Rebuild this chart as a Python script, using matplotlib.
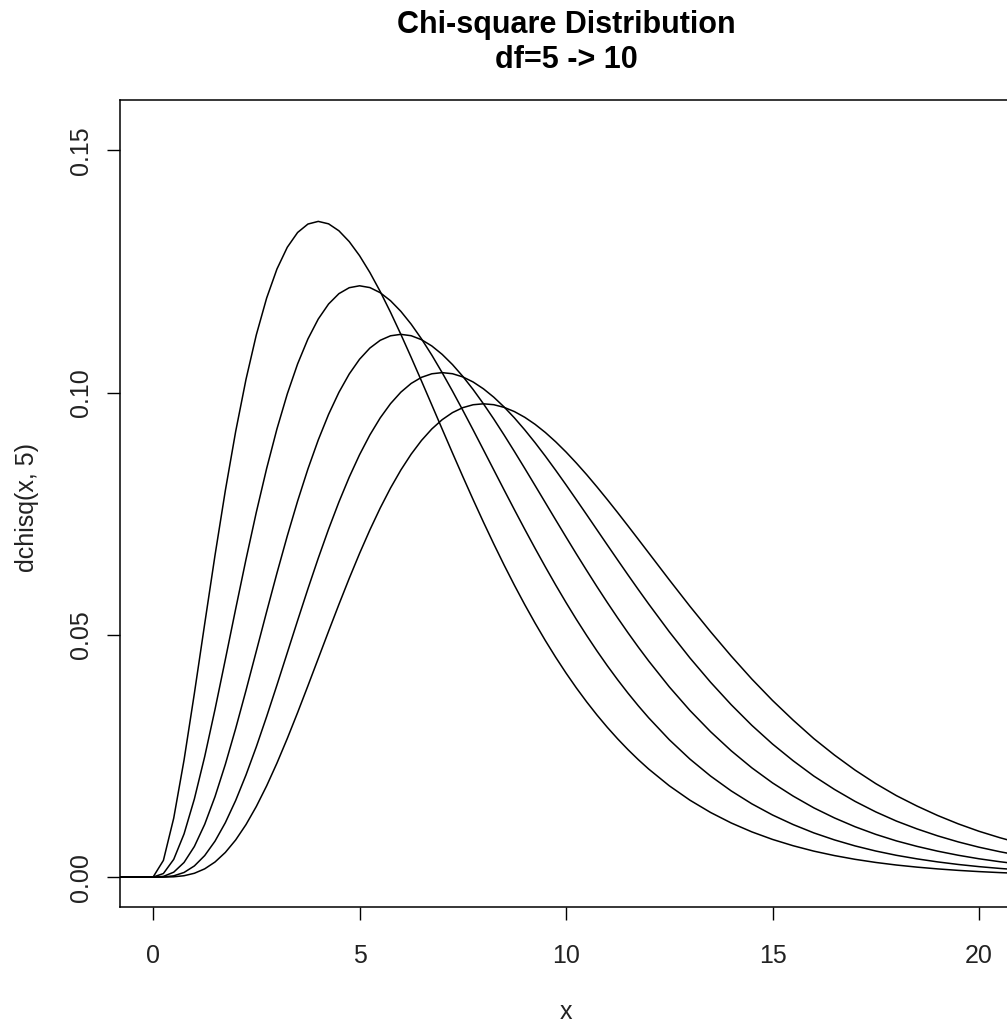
import matplotlib
matplotlib.use("Agg")
import matplotlib.pyplot as plt

x = [-1,
     0, 0.25, 0.5, 0.75, 1, 1.25, 1.5, 1.75, 2, 2.25, 2.5, 2.75,
     3, 3.25, 3.5, 3.75, 4, 4.25, 4.5, 4.75, 5, 5.25, 5.5, 5.75,
     6, 6.25, 6.5, 6.75, 7, 7.25, 7.5, 7.75, 8, 8.25, 8.5, 8.75,
     9, 9.25, 9.5, 9.75, 10, 10.25, 10.5, 10.75, 11, 11.25, 11.5, 11.75,
     12, 12.5, 13, 13.5, 14, 14.5, 15, 15.5, 16, 16.5, 17, 17.5,
     18, 18.5, 19, 19.5, 20, 20.5, 21]

df6 = [0,
       0, 0.003447, 0.012169, 0.024163, 0.037908, 0.052272, 0.066427, 0.079790,
       0.091970, 0.102722, 0.111916, 0.119506,
       0.125511, 0.129993, 0.133046, 0.134785, 0.135335, 0.134829, 0.133396, 0.131164,
       0.128258, 0.124789, 0.120864, 0.116578,
       0.112021, 0.107268, 0.102388, 0.097441, 0.092478, 0.087546, 0.082680, 0.077912,
       0.073264, 0.068760, 0.064411, 0.060236,
       0.056239, 0.052428, 0.048803, 0.045363, 0.042113, 0.039044, 0.036162, 0.033448,
       0.030908, 0.028532, 0.026310, 0.024239,
       0.022311, 0.018848, 0.015875, 0.013338, 0.011172, 0.009330, 0.007777, 0.006472,
       0.005360, 0.004441, 0.003667, 0.003024,
       0.002491, 0.002056, 0.001690, 0.001386, 0.001135, 0.000930, 0.000758]
df7 = [0,
       0, 0.000733, 0.003662, 0.008905, 0.016131, 0.024870, 0.034620, 0.044917,
       0.055349, 0.065569, 0.075301, 0.084333,
       0.092509, 0.099725, 0.105920, 0.111071, 0.115182, 0.118283, 0.120419, 0.121648,
       0.122043, 0.121674, 0.120621, 0.118958,
       0.116767, 0.114118, 0.111083, 0.107730, 0.104119, 0.100311, 0.096355, 0.092299,
       0.088182, 0.084044, 0.079912, 0.075823,
       0.071796, 0.067854, 0.064011, 0.060276, 0.056671, 0.053194, 0.049864, 0.046668,
       0.043622, 0.040724, 0.037967, 0.035357,
       0.032889, 0.028357, 0.024357, 0.020855, 0.017788, 0.015118, 0.012818, 0.010843,
       0.009124, 0.007677, 0.006434, 0.005383,
       0.004497, 0.003763, 0.003135, 0.002605, 0.002160, 0.001792, 0.001478]
df8 = [0,
       0, 0.000144, 0.001014, 0.003020, 0.006318, 0.010890, 0.016607, 0.023272,
       0.030657, 0.038521, 0.046632, 0.054774,
       0.062756, 0.070413, 0.077610, 0.084241, 0.090223, 0.095504, 0.100047, 0.103838,
       0.106882, 0.109190, 0.110792, 0.111721,
       0.112021, 0.111738, 0.110920, 0.109621, 0.107891, 0.105785, 0.103350, 0.100636,
       0.097685, 0.094545, 0.091249, 0.087844,
       0.084359, 0.080826, 0.077271, 0.073715, 0.070188, 0.066700, 0.063284, 0.059928,
       0.056665, 0.053498, 0.050428, 0.047468,
       0.044622, 0.039267, 0.034396, 0.030011, 0.026068, 0.022548, 0.019443, 0.016719,
       0.014293, 0.012213, 0.010390, 0.008820,
       0.007473, 0.006339, 0.005352, 0.004505, 0.003783, 0.003178, 0.002653]
df9 = [0,
       0, 0.0000262, 0.000262, 0.000954, 0.002304, 0.004441, 0.007419, 0.011229,
       0.015814, 0.021076, 0.026893, 0.033131,
       0.039647, 0.046301, 0.052960, 0.059502, 0.065818, 0.071815, 0.077412, 0.082547,
       0.087174, 0.091256, 0.094774, 0.097716,
       0.100086, 0.101891, 0.103149, 0.103882, 0.104119, 0.103894, 0.103238, 0.102188,
       0.100779, 0.099052, 0.097036, 0.094779,
       0.092309, 0.089664, 0.086872, 0.083956, 0.080959, 0.077891, 0.074796, 0.071669,
       0.068549, 0.065449, 0.062375, 0.059349,
       0.056381, 0.050638, 0.045234, 0.040220, 0.035576, 0.031316, 0.027467, 0.024010,
       0.020855, 0.018096, 0.015625, 0.013458,
       0.011564, 0.009945, 0.008509, 0.007257, 0.006171, 0.005248, 0.004434]
df10 = [0,
        0, 0.0000045, 0.0000634, 0.000283, 0.000790, 0.001702, 0.003114, 0.005091,
        0.007664, 0.010834, 0.014573, 0.018829,
        0.023534, 0.028605, 0.033954, 0.039488, 0.045112, 0.050737, 0.056276, 0.061654,
        0.066801, 0.071656, 0.076170, 0.080300,
        0.084016, 0.087295, 0.090123, 0.092493, 0.094405, 0.095868, 0.096891, 0.097491,
        0.097685, 0.097500, 0.096952, 0.096079,
        0.094904, 0.093455, 0.091759, 0.089840, 0.087735, 0.085459, 0.083060, 0.080528,
        0.077914, 0.075232, 0.072490, 0.069719,
        0.066933, 0.061355, 0.055894, 0.050644, 0.045619, 0.040868, 0.036456, 0.032393,
        0.028586, 0.025189, 0.022079, 0.019294,
        0.016814, 0.014659, 0.012711, 0.010981, 0.009458, 0.008144, 0.006964]

curves = [df6, df7, df8, df9, df10]
xticks = [0, 5, 10, 15, 20]
yticks = [0.00, 0.05, 0.10, 0.15]
ytick_labels = ["0.00", "0.05", "0.10", "0.15"]

plt.rcParams['font.family'] = ['Liberation Sans', 'DejaVu Sans']

fig = plt.figure(figsize=(10.07, 10.23), dpi=100)
ax = fig.add_axes([0.1192, 0.1134, 0.8858, 0.7889])

for c in curves:
    ax.plot(x, c, color='black', linewidth=1.1)

ax.set_xlim(-0.8, 20.8)
ax.set_ylim(-0.00617, 0.1604)

ax.set_xticks(xticks)
ax.set_xticklabels([str(t) for t in xticks])
ax.set_yticks(yticks)
ax.set_yticklabels(ytick_labels, rotation=90, va='center')
ax.tick_params(direction='out', length=9.5, width=1.0, colors='black',
               labelsize=18, labelcolor='#222222')
ax.tick_params(axis='x', pad=17)
ax.tick_params(axis='y', pad=10)

for s in ax.spines.values():
    s.set_linewidth(1.1)

fig.text(566 / 1007, 1 - 42.5 / 1023, "Chi-square Distribution\ndf=5 -> 10",
         ha='center', va='center', fontsize=22, fontweight='bold', linespacing=1.2)
fig.text(566 / 1007, 1 - 1012 / 1023, "x", ha='center', va='center',
         fontsize=18, color='#222222')
fig.text(27 / 1007, 1 - 507 / 1023, "dchisq(x, 5)", ha='center', va='center',
         fontsize=18, rotation=90, color='#222222')

fig.savefig("out.png", dpi=100)
